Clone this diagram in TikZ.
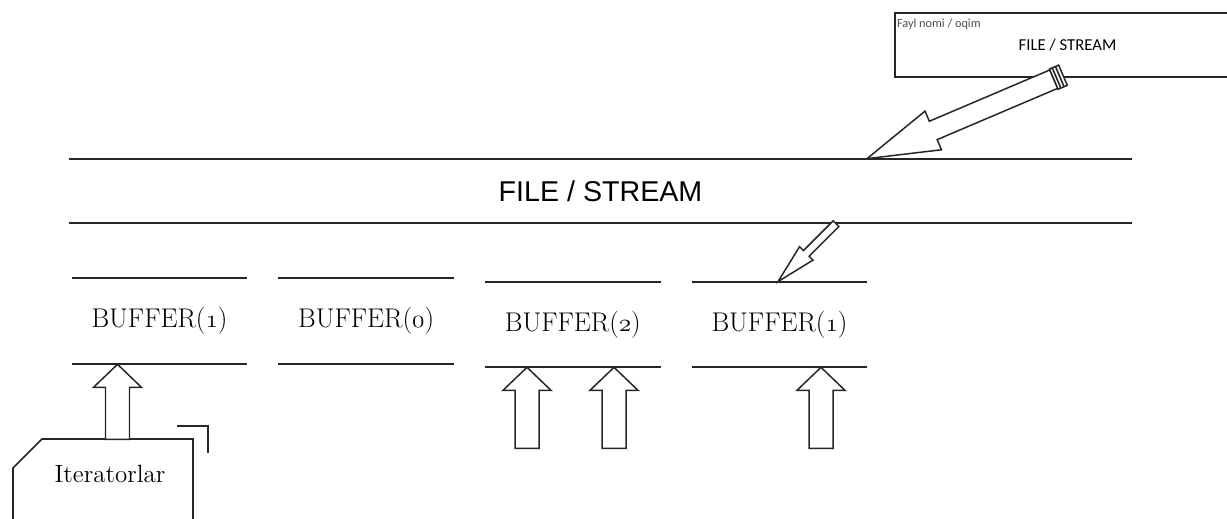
\documentclass[tikz,border=0pt]{standalone}
\usepackage{fontspec}
\usepackage{tikz}
\usetikzlibrary{positioning}
\newfontfamily\streamfont{Liberation Sans}
\newfontfamily\boxfont{Carlito}
\definecolor{ink}{RGB}{38,38,38}
% old-style figures taken from the math italic font
\newcommand{\osf}[1]{$\mathnormal{#1}$}

\begin{document}
\begin{tikzpicture}[
		x=0.02cm, y=-0.02cm,
		node distance=0.62cm,
		rule/.style={line width=1pt, draw=ink},
		buf/.style={minimum width=3.5cm, minimum height=1.72cm, inner sep=0pt, font=\fontsize{15.4}{18}\selectfont},
		blk/.style={line width=0.85pt, draw=ink, fill=white},
		pics/uparrow/.style={code={
			\draw[blk] (0,0) -- (24,23) -- (12,23) -- (12,#1) -- (-12,#1) -- (-12,23) -- (-24,23) -- cycle;
		}},
		pics/feedarrow/.style={code={
			\draw[blk] (0,0) -- (72,21) -- (72,10) -- (203,10) -- (203,-10) -- (72,-10) -- (72,-21) -- cycle;
			\draw[blk] (203,-11) rectangle (213,11);
			\draw[line width=0.9pt, draw=ink] (206,-11) -- (206,11) (209.5,-11) -- (209.5,11);
		}},
		pics/droparrow/.style={code={
			\draw[blk] (0,0) -- (40,9.5) -- (40,4) -- (82,4) -- (82,-4) -- (40,-4) -- (40,-9.5) -- cycle;
		}}
	]
	\useasboundingbox (0,0) rectangle (1227,519);
	\clip (0,0) rectangle (1227,519);

	% file name box
	\node[rule, draw, minimum width=6.9cm, minimum height=1.28cm, inner sep=0pt, font=\boxfont\fontsize{9.5}{11}\selectfont] (fname) at (1067.5,45) {FILE / STREAM};
	\node[below right=0.12cm and 0.05cm of fname.north west, anchor=north west, inner sep=0pt, text=black!70, font=\boxfont\fontsize{7}{8}\selectfont] (fnamelbl) {Fayl nomi / oqim};

	% the stream band
	\node[minimum width=21.26cm, minimum height=1.28cm, inner sep=0pt, font=\streamfont\fontsize{16.3}{19}\selectfont] (stream) at (600.5,191) {FILE / STREAM};
	\draw[rule] (stream.north west) -- (stream.north east) (stream.south west) -- (stream.south east);

	% buffers
	\node[buf] (b1) at (159.5,321) {BUFFER(\osf{1})};
	\node[buf, right=of b1] (b2) {BUFFER(\osf{0})};
	\node[buf, minimum height=1.7cm, right=of b2, yshift=-0.07cm] (b3) {BUFFER(\osf{2})};
	\node[buf, minimum height=1.7cm, right=of b3] (b4) {BUFFER(\osf{1})};
	\foreach \b in {b1,b2,b3,b4}
		\draw[rule] (\b.north west) -- (\b.north east) (\b.south west) -- (\b.south east);

	% iterators
	\node[inner sep=0pt, font=\fontsize{14.2}{17}\selectfont] (iter) at (110,474) {Iteratorlar};
	\draw[rule] (193,545) |- (42,439) -- (13,468) -- (13,545);
	\draw[rule] (177,426) -| (208,453);

	% arrows
	\pic[rotate=23.06] at (867,0 |- stream.north) {feedarrow};
	\pic[rotate=45] at (778,0 |- b4.north) {droparrow};
	\pic at (117.5,0 |- b1.south) {uparrow=75};
	\pic at (527,0 |- b3.south) {uparrow=81};
	\pic at (614,0 |- b3.south) {uparrow=81};
	\pic at (821,0 |- b4.south) {uparrow=81};

\end{tikzpicture}
\end{document}
